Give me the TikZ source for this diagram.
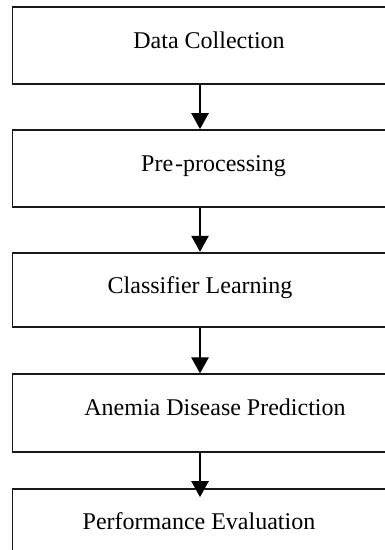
\documentclass[tikz,border=0pt]{standalone}
\usepackage{fontspec}
\setmainfont{Liberation Serif}
\usetikzlibrary{arrows.meta}
\tikzset{
    stage/.style={draw=black!90, line width=1.8pt, inner sep=0pt, minimum width=375pt},
    stagetext/.style={anchor=base, inner sep=0pt, font=\fontsize{24}{28}\selectfont},
    flow/.style={line width=2.6pt, -{Triangle[width=17pt,length=16pt]}},
}
\begin{document}
\begin{tikzpicture}[x=1pt,y=-1pt]
\useasboundingbox (0,0) rectangle (385,550);
\clip (0,0) rectangle (385,550);
\fill[white] (0,0) rectangle (385,550);

\node[stage, minimum height=76.7pt] (collect) at (200,45.65) {};
\node[stage, minimum height=76.7pt] (prep) at (200,168.35) {};
\node[stage, minimum height=74pt] (learn) at (200,289.7) {};
\node[stage, minimum height=77.4pt] (predict) at (200,413) {};
\node[stage, minimum height=120pt] (evaluate) at (200,549) {};

\node[stagetext] (collecttext) at (209,48.3) {Data Collection};
\node[stagetext] (preptext) at (213.5,171.7) {Pre\kern2pt-processing};
\node[stagetext] (learntext) at (200,293.3) {Classifier Learning};
\node[stagetext] (predicttext) at (215,415) {Anemia Disease Prediction};
\node[stagetext] (evaluatetext) at (199,529.3) {Performance Evaluation};

\draw[flow] (collect.south) -- (prep.north);
\draw[flow] (prep.south) -- (learn.north);
\draw[flow] (learn.south) -- (predict.north);
\draw[flow, shorten >=-9pt] (predict.south) -- (evaluate.north);
\end{tikzpicture}
\end{document}
